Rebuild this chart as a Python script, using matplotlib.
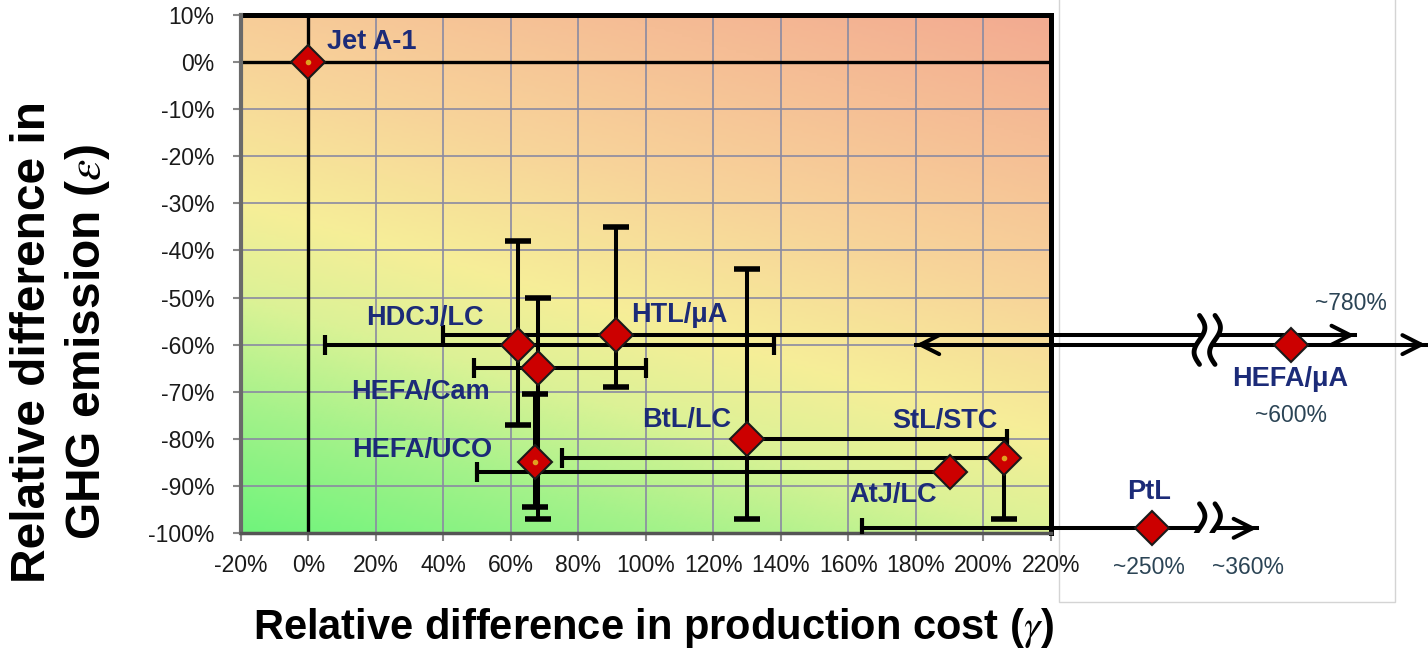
import numpy as np
import matplotlib
matplotlib.use('Agg')
import matplotlib.pyplot as plt
from matplotlib.colors import LinearSegmentedColormap
from matplotlib.patches import Rectangle

plt.rcParams['font.family'] = ['Liberation Sans', 'DejaVu Sans']
plt.rcParams['mathtext.fontset'] = 'stix'

# fuel pathways: relative production cost (gamma) and GHG emission (epsilon), in %
fuels   = ['Jet A-1', 'HDCJ/LC', 'HTL/μA', 'HEFA/Cam', 'HEFA/UCO', 'BtL/LC', 'StL/STC', 'AtJ/LC', 'PtL', 'HEFA/μA']
cost    = [0, 62, 91, 68, 67, 130, 206, 190, 250, 600]
ghg     = [0, -60, -58, -65, -85, -80, -84, -87, -99, -60]
cost_lo = [np.nan, 5, 40, 49, np.nan, np.nan, 75, 50, 164, 180]
cost_hi = [np.nan, 138, 780, 100, np.nan, 207, np.nan, np.nan, 360, 850]
ghg_lo  = [np.nan, -77, -69, -97, -94.5, -97, -97, np.nan, np.nan, np.nan]
ghg_hi  = [np.nan, -38, -35, -50, -70.5, -44, np.nan, np.nan, np.nan, np.nan]
# how the ends of the cost range are drawn
cost_lo_end = ['', 'cap', 'cap', 'cap', '', '', 'cap', 'cap', 'cap', 'arrow']
cost_hi_end = ['', 'cap', 'arrow', 'cap', '', 'cap', '', '', 'arrow', 'arrow']
dotted = ['Jet A-1', 'HEFA/UCO', 'StL/STC']   # markers with the little centre dot
approx = [250, 360, 600, 780]                 # off-scale values written as "~xxx%"

xticks = list(range(-20, 221, 20))
yticks = list(range(-100, 11, 10))

# broken cost axis: linear up to the break, squeezed beyond it
brk_val = [-20, 265, 360, 600, 780, 850]
brk_pos = [-20, 265, 281, 291, 310, 331]
def xp(v):
    return float(np.interp(v, brk_val, brk_pos))

NAVY = '#1c2b78'
fig = plt.figure(figsize=(14.28, 6.67), dpi=100)
ax = fig.add_axes([241/1428, 134/667, 1186.3/1428, 518/667])
ax.set_xlim(-20, 331.5)
ax.set_ylim(-100, 10)
ax.set_facecolor('none')
for s in ax.spines.values():
    s.set_visible(False)

# white side panel for the off-scale pathways
fig.patches.append(Rectangle((1059/1428, 65/667), 336/1428, 1.0, transform=fig.transFigure,
                             fc='white', ec='#d4d4d4', lw=1, zorder=-1))

# background gradient green -> yellow -> salmon
cmap = LinearSegmentedColormap.from_list('bg', [(0, '#70f47c'), (0.16, '#a4f28a'), (0.3, '#dcf296'),
                                                (0.42, '#f6ee98'), (0.6, '#f8d49a'), (1.0, '#f2a690')])
xn, yn = np.meshgrid(np.linspace(0, 1, 300), np.linspace(0, 1, 200))
ax.imshow(cmap(0.3*xn + 0.66*yn), extent=[-20, 220, -100, 10], origin='lower',
          aspect='auto', interpolation='bilinear', zorder=0)

# grid and frame of the main window
ax.vlines(xticks, -100, 10, color='#8a8aa2', lw=1.2, zorder=1)
ax.hlines(yticks, -20, 220, color='#8a8aa2', lw=1.2, zorder=1)
ax.plot([0, 0], [-100, 10], color='k', lw=2.4, zorder=2)
ax.plot([-20, 220], [0, 0], color='k', lw=2.4, zorder=2)
ax.plot([-20, 220], [10, 10], color='k', lw=3.6, zorder=2, clip_on=False, solid_capstyle='projecting')
ax.plot([220, 220], [-100, 10], color='k', lw=3.6, zorder=2, clip_on=False, solid_capstyle='projecting')
ax.plot([-20, -20], [-100, 10], color='#6a6a6a', lw=3, zorder=2, clip_on=False)
ax.plot([-20, 220], [-100, -100], color='#555555', lw=2.5, zorder=2, clip_on=False)

ax.set_xticks(xticks, [f'{v}%' for v in xticks])
ax.set_yticks(yticks, [f'{v}%' for v in yticks])
ax.tick_params(direction='out', length=6, width=1.5, color='#888888', labelsize=16.5, labelcolor='#1a1a1a')
ax.tick_params(axis='x', pad=9)
ax.tick_params(axis='y', pad=13)

LW = 2.9
arrow_kw = dict(arrowstyle='->,head_length=0.75,head_width=0.38', lw=LW, color='k',
                mutation_scale=18, shrinkA=0, shrinkB=0)
crossing = []
for i, name in enumerate(fuels):
    x, y = xp(cost[i]), ghg[i]
    x0 = x if np.isnan(cost_lo[i]) else xp(cost_lo[i])
    x1 = x if np.isnan(cost_hi[i]) else xp(cost_hi[i])
    if x1 > x0:
        ax.plot([x0, x1], [y, y], color='k', lw=LW, zorder=3, clip_on=False)
        if x0 < 265 < x1:
            crossing.append(y)
    for xe, end, sgn in [(x0, cost_lo_end[i], -1), (x1, cost_hi_end[i], 1)]:
        if end == 'cap':
            ax.plot(xe, y, marker='|', ms=15, mew=3, color='k', zorder=3)
        elif end == 'arrow':
            ax.annotate('', xy=(xe, y), xytext=(xe - sgn*4, y), arrowprops=arrow_kw,
                        annotation_clip=False, zorder=3)
    y0 = y if np.isnan(ghg_lo[i]) else ghg_lo[i]
    y1 = y if np.isnan(ghg_hi[i]) else ghg_hi[i]
    if y1 > y0:
        ax.plot([x, x], [y0, y1], color='k', lw=LW, zorder=3)
        for ye, v in [(y0, ghg_lo[i]), (y1, ghg_hi[i])]:
            if not np.isnan(v):
                ax.plot(x, ye, marker='_', ms=19, mew=4, color='k', zorder=3)

# break marks where a range runs past the end of the linear scale
groups = {}
for y in crossing:
    groups.setdefault(round(y / 10), []).append(y)
for ys in groups.values():
    yc = np.mean(ys)
    t = np.linspace(-1, 1, 60)
    yy = yc + 5.2*t
    c1 = 264.0 + 1.6*np.sin(np.pi*t)
    c2 = 268.6 + 1.6*np.sin(np.pi*t)
    ax.fill_betweenx(yy, c1, c2, color='white', zorder=4, lw=0)
    ax.plot(c1, yy, color='k', lw=3.5, zorder=4.5, solid_capstyle='round')
    ax.plot(c2, yy, color='k', lw=3.5, zorder=4.5, solid_capstyle='round')

# markers
ax.plot([xp(c) for c in cost], ghg, 'D', ms=17, mfc='#cc0000', mec='#1a1a1a', mew=1.5,
        zorder=5, clip_on=False)
for name in dotted:
    i = fuels.index(name)
    ax.plot(xp(cost[i]), ghg[i], 'o', ms=3, color='#e0a020', zorder=6)

# labels
label_pos = {'Jet A-1': (5.5, 4.2, 'left'), 'HDCJ/LC': (34.5, -54.4, 'center'),
             'HTL/μA': (110, -53.7, 'center'), 'HEFA/Cam': (33.2, -70, 'center'),
             'HEFA/UCO': (33.8, -82.4, 'center'), 'BtL/LC': (112, -76, 'center'),
             'StL/STC': (188.5, -76.2, 'center'), 'AtJ/LC': (173.3, -91.9, 'center'),
             'PtL': (249, -91.3, 'center'), 'HEFA/μA': (291, -67.3, 'center')}
for name in fuels:
    lx, ly, ha = label_pos[name]
    ax.text(lx, ly, name, color=NAVY, fontsize=19.5, fontweight='bold', ha=ha, va='center',
            zorder=7)
approx_pos = {250: (249, -107.3), 360: (278.5, -107.3), 600: (291, -75.1), 780: (308.8, -51.3)}
for v in approx:
    lx, ly = approx_pos[v]
    ax.text(lx, ly, f'~{v}%', color='#2b4455', fontsize=16.5, ha='center', va='center',
            clip_on=False)

fig.text(654/1428, 1 - 628/667, r'Relative difference in production cost ($\gamma$)',
         fontsize=30, fontweight='bold', ha='center', va='center')
fig.text(33/1428, 1 - 342/667, 'Relative difference in', rotation=90,
         fontsize=34.5, fontweight='bold', ha='center', va='center')
fig.text(88/1428, 1 - 342/667, r'GHG emission ($\varepsilon$)', rotation=90,
         fontsize=34.5, fontweight='bold', ha='center', va='center')

fig.savefig('out.png', dpi=100)
